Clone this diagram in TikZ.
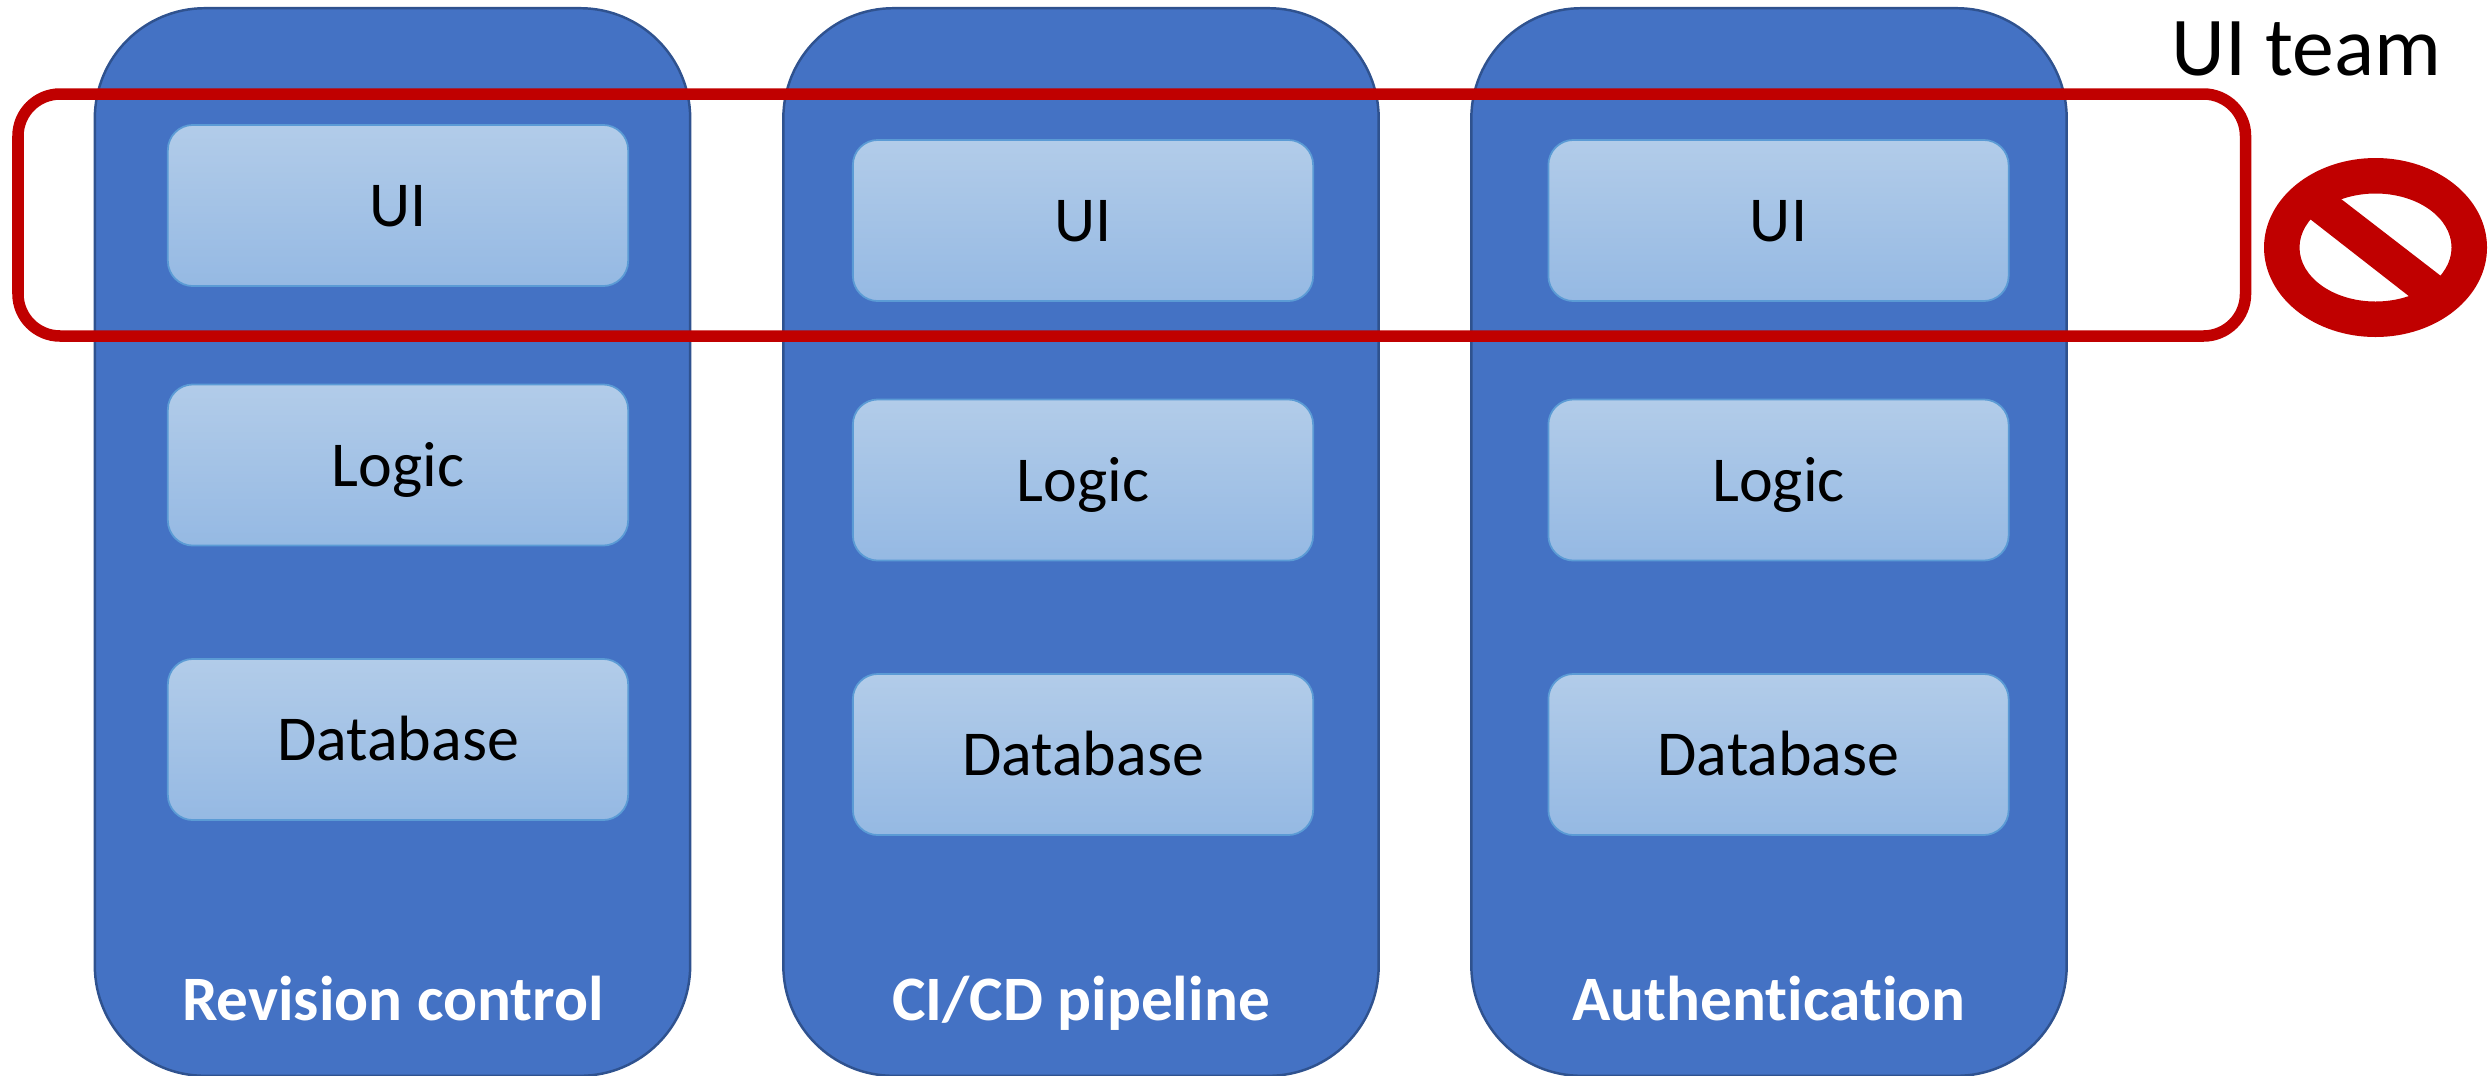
\documentclass[tikz,border=0pt]{standalone}
\usepackage{fontspec}
\setmainfont[Ligatures=NoCommon]{Carlito}
\definecolor{colblue}{HTML}{4472C4}
\definecolor{coledge}{HTML}{2F528F}
\definecolor{modtop}{HTML}{B2CCE9}
\definecolor{modbot}{HTML}{95B9E3}
\definecolor{modedge}{HTML}{5B9BD5}
\definecolor{nored}{HTML}{C00000}
\tikzset{
    column/.style = {draw = coledge, line width = 0.7pt, fill = colblue, rounded corners = 1.1cm, minimum width = 5.95cm, minimum height = 10.67cm},
    modbox/.style = {draw = modedge, line width = 0.5pt, top color = modtop, bottom color = modbot, rounded corners = 0.25cm, minimum width = 4.6cm, minimum height = 1.61cm, font = \fontsize{18.2}{22}\selectfont, text height = 12pt, text depth = 0pt, inner sep = 0pt},
    collabel/.style = {text = white, font = \fontsize{18}{22}\selectfont\bfseries, text height = 11.6pt, text depth = 0pt, inner sep = 0pt}
}
\begin{document}
\begin{tikzpicture}[x = 0.01cm, y = -0.01cm]
            \useasboundingbox (0, 0) rectangle (2491, 1075);
            \node [column] (colA) at (392.5, 542) {};
            \node [column] (colB) at (1081, 542) {};
            \node [column] (colC) at (1769, 542) {};

            \node [modbox] (uiA) at (398, 205.5) {UI};
            \node [modbox] (logicA) at (398, 465) {Logic};
            \node [modbox] (dbA) at (398, 739.5) {Database};

            \node [modbox] (uiB) at (1083, 220.5) {UI};
            \node [modbox] (logicB) at (1083, 480) {Logic};
            \node [modbox] (dbB) at (1083, 754.5) {Database};

            \node [modbox] (uiC) at (1778.5, 220.5) {UI};
            \node [modbox] (logicC) at (1778.5, 480) {Logic};
            \node [modbox] (dbC) at (1778.5, 754.5) {Database};

            \node [collabel] (nameA) at (393, 1000) {Revision control};
            \node [collabel] (nameB) at (1081, 1000) {CI/CD pipeline};
            \node [collabel] (nameC) at (1769, 1000) {Authentication};

            \draw [nored, line width = 0.115cm, rounded corners = 0.42cm] (18, 94) rectangle (2245.5, 336);
            \node [font = \fontsize{23.8}{28}\selectfont, inner sep = 0pt] (team) at (2306.5, 49) {UI team};

            \coordinate (stop) at (2375.5, 247.5);
            \fill [nored, even odd rule] (stop) ellipse [x radius = 111.5, y radius = 89.5] (stop) ellipse [x radius = 76, y radius = 54];
            \fill [nored] (2332, 192) -- (2450, 283) -- (2419, 304) -- (2301, 212) -- cycle;
        \end{tikzpicture}
\end{document}
